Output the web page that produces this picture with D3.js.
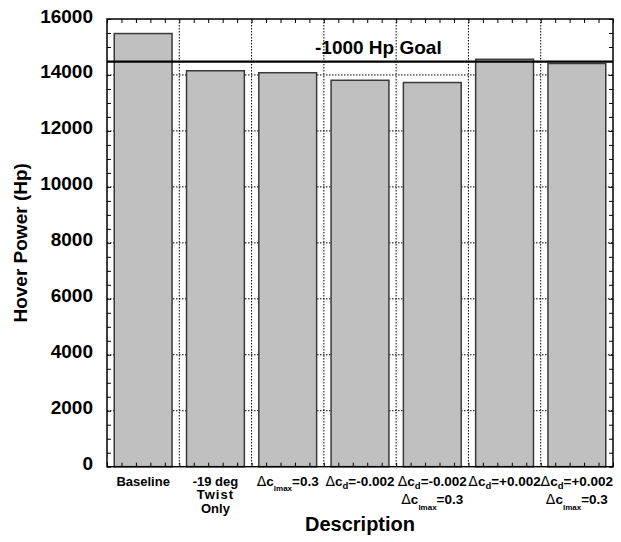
<!DOCTYPE html>
<html>
<head>
<meta charset="utf-8">
<script src="https://cdn.jsdelivr.net/npm/d3@7"></script>
<style>
  html, body { margin: 0; padding: 0; background: #fff; }
  svg text { font-family: "Liberation Sans", Arial, Helvetica, sans-serif; }
</style>
</head>
<body>
<svg id="chart" width="621" height="542"></svg>
<script>
// Hover power for each rotor design change
const categories = ["base", "twist", "clmax", "cdm", "cdmClmax", "cdp", "cdpClmax"];
const categoryLabels = [
  "Baseline",
  "-19 deg\nTwist\nOnly",
  "Δc_{lmax}=0.3",
  "Δc_{d}=-0.002",
  "Δc_{d}=-0.002\nΔc_{lmax}=0.3",
  "Δc_{d}=+0.002",
  "Δc_{d}=+0.002\nΔc_{lmax}=0.3"
];
const hoverPower = [15480, 14150, 14080, 13810, 13730, 14560, 14410];
const goalPower = [14480];
const goalLabel = ["-1000 Hp Goal"];
const yTicks = [0, 2000, 4000, 6000, 8000, 10000, 12000, 14000, 16000];
const yTickLabels = ["0", "2000", "4000", "6000", "8000", "10000", "12000", "14000", "16000"];
const yMinorTicks = d3.range(0, 16001, 500);
const xTitle = "Description";
const yTitle = "Hover Power (Hp)";

const svg = d3.select("#chart");
const L = 107, R = 613, T = 19, B = 466.7;

const x = d3.scaleBand().domain(categories).range([L, R]).paddingInner(0.2).paddingOuter(0.1);
const xPos = d3.scaleLinear().domain([0, categories.length]).range([L, R]);
const y = d3.scaleLinear().domain([0, 16000]).range([B, T]);

// dotted grid
const grid = svg.append("g").attr("stroke", "#000").attr("stroke-width", 1).attr("stroke-dasharray", "1.5,1.5");
grid.selectAll("line.h").data(yTicks.filter(d => d > 0 && d < 16000)).join("line")
  .attr("x1", L).attr("x2", R).attr("y1", d => y(d)).attr("y2", d => y(d));
grid.selectAll("line.v").data(d3.range(1, categories.length)).join("line")
  .attr("y1", T).attr("y2", B).attr("x1", d => xPos(d)).attr("x2", d => xPos(d));

// bars
svg.append("g").selectAll("rect").data(categories).join("rect")
  .attr("x", d => x(d))
  .attr("width", x.bandwidth())
  .attr("y", (d, i) => y(hoverPower[i]))
  .attr("height", (d, i) => y(0) - y(hoverPower[i]))
  .attr("fill", "#c0c0c0")
  .attr("stroke", "#3a3a3a")
  .attr("stroke-width", 1.5);

// goal line
svg.append("g").selectAll("line").data(goalPower).join("line")
  .attr("x1", L).attr("x2", R).attr("y1", d => y(d)).attr("y2", d => y(d))
  .attr("stroke", "#000").attr("stroke-width", 2.2);
svg.append("text").attr("x", 315).attr("y", y(goalPower[0]) - 8)
  .attr("font-size", 19).attr("font-weight", "bold").text(goalLabel[0]);

// inward ticks on all four sides
const tickG = svg.append("g").attr("stroke", "#000").attr("stroke-width", 1);
const yAxisMinor = d3.axisLeft(y).tickValues(yMinorTicks).tickSize(-4).tickFormat("");
const yAxisMinorR = d3.axisRight(y).tickValues(yMinorTicks).tickSize(-4).tickFormat("");
tickG.append("g").attr("transform", `translate(${L},0)`).call(yAxisMinor);
tickG.append("g").attr("transform", `translate(${R},0)`).call(yAxisMinorR);
const xMinor = d3.range(0, categories.length * 5 + 1).map(d => d / 5);
tickG.append("g").attr("transform", `translate(0,${B})`)
  .call(d3.axisBottom(xPos).tickValues(xMinor).tickSize(-4).tickFormat(""));
tickG.append("g").attr("transform", `translate(0,${T})`)
  .call(d3.axisTop(xPos).tickValues(xMinor).tickSize(-4).tickFormat(""));
tickG.selectAll(".domain").remove();

// frame
svg.append("rect").attr("x", L).attr("y", T).attr("width", R - L).attr("height", B - T)
  .attr("fill", "none").attr("stroke", "#000").attr("stroke-width", 1.5);

// y tick labels
svg.append("g").selectAll("text").data(yTicks).join("text")
  .attr("x", 93).attr("y", d => y(d) + 3.5)
  .attr("text-anchor", "end").attr("font-size", 19).attr("font-weight", "bold")
  .text((d, i) => yTickLabels[i]);

// category labels, with _{...} drawn as subscripts
const labelG = svg.append("g");
categories.forEach((c, i) => {
  const cx = x(c) + x.bandwidth() / 2;
  const lines = categoryLabels[i].split("\n");
  const hasSub = categoryLabels[i].includes("_{");
  const lineGap = hasSub ? 18.5 : 13.5;
  lines.forEach((line, j) => {
    const t = labelG.append("text")
      .attr("x", cx).attr("y", 485.5 + j * lineGap)
      .attr("text-anchor", "middle").attr("font-size", hasSub ? 13.5 : 13).attr("font-weight", "bold")
      .attr("letter-spacing", line === "Twist" ? 1 : 0);
    const parts = line.split(/(_\{[^}]*\})/).filter(p => p.length);
    let shift = 0;
    parts.forEach(p => {
      if (p.startsWith("_{")) {
        const s = p.slice(2, -1);
        shift = s.length > 1 ? 5.5 : 3.5;
        t.append("tspan").attr("font-size", s.length > 1 ? 8 : 9.5).attr("dy", shift).text(s);
      } else {
        const segs = p.split(/(Δ)/).filter(s => s.length);
        segs.forEach(s => {
          const ts = t.append("tspan").text(s);
          if (s === "Δ") ts.attr("font-weight", "normal").attr("font-family", "DejaVu Sans").attr("font-size", 14);
          if (shift) { ts.attr("dy", -shift); shift = 0; }
        });
      }
    });
  });
});

// axis titles
svg.append("text").attr("x", (L + R) / 2).attr("y", 531)
  .attr("text-anchor", "middle").attr("font-size", 20).attr("font-weight", "bold").text(xTitle);
svg.append("text").attr("transform", `translate(27,${(T + B) / 2}) rotate(-90)`)
  .attr("text-anchor", "middle").attr("font-size", 19).attr("font-weight", "bold").text(yTitle);
</script>
</body>
</html>
